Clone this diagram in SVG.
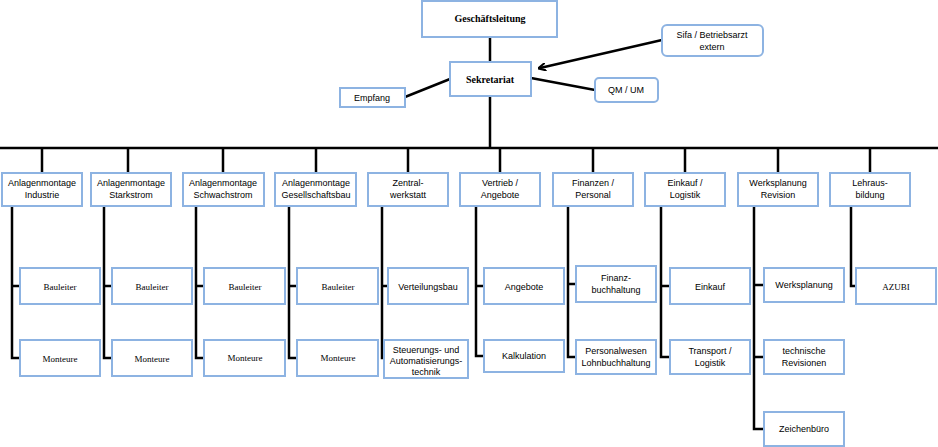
<svg xmlns="http://www.w3.org/2000/svg" width="938" height="447" viewBox="0 0 938 447">
<style>
rect{fill:#fff;stroke:#8db3e2;stroke-width:2}
.c line,.c path{stroke:#000;stroke-width:2.5;fill:none}
text{font-family:"Liberation Sans",Arial,sans-serif;font-size:9px;text-anchor:middle;fill:#000}
.s{font-family:"Liberation Serif",serif}
.b{font-weight:bold;font-family:"Liberation Serif",serif;font-size:10px}
</style>
<defs><marker id="a" markerWidth="8" markerHeight="8" refX="6" refY="4" orient="auto" markerUnits="userSpaceOnUse"><path d="M0,0 L8,4 L0,8" fill="none" stroke="#000" stroke-width="2"/></marker></defs>
<g class="c">
<line x1="490" y1="37" x2="490" y2="62"/>
<line x1="490" y1="96" x2="490" y2="148"/>
<line x1="0" y1="148" x2="938" y2="148"/>
<line x1="450" y1="79" x2="405" y2="97"/>
<line x1="531" y1="78" x2="595" y2="90"/>
<line x1="662" y1="40" x2="540" y2="68" marker-end="url(#a)" stroke-width="3"/>
<path d="M42 148V173M128 148V173M223 148V173M316 148V173M408 148V173M500 148V173M593 148V173M685 148V173M778 148V173M870 148V173"/>
<path d="M12 206V358H20M12 286H20"/>
<path d="M104 206V358H112M104 286H112"/>
<path d="M196 206V358H204M196 286H204"/>
<path d="M289 206V358H297M289 286H297"/>
<path d="M382 206V358H388M382 286H388"/>
<path d="M476 206V356H484M476 286H484"/>
<path d="M568 206V357H576M568 284H576"/>
<path d="M661 206V357H670M661 286H670"/>
<path d="M754 206V429H764M754 285H764M754 357H764"/>
<path d="M851 206V286H856"/>
</g>
<g id="gl"><rect x="422" y="1" width="135" height="36"/><text class="b" x="490" y="22">Geschäftsleitung</text></g>
<g id="sek"><rect x="450" y="62" width="81" height="34"/><text class="b" x="490" y="83">Sekretariat</text></g>
<g id="sifa"><rect x="662" y="25" width="101" height="31" rx="5"/><text x="712" y="38">Sifa / Betriebsarzt</text><text x="712" y="50">extern</text></g>
<g id="qm"><rect x="595" y="78" width="63" height="24" rx="4"/><text x="626" y="93">QM / UM</text></g>
<g id="emp"><rect x="340" y="88" width="65" height="19"/><text x="372" y="101">Empfang</text></g>
<g id="d1"><rect x="2" y="173" width="80" height="33"/><text x="42" y="186">Anlagenmontage</text><text x="42" y="198">Industrie</text></g>
<g id="d2"><rect x="91" y="173" width="80" height="33"/><text x="131" y="186">Anlagenmontage</text><text x="131" y="198">Starkstrom</text></g>
<g id="d3"><rect x="183" y="173" width="81" height="33"/><text x="223" y="186">Anlagenmontage</text><text x="223" y="198">Schwachstrom</text></g>
<g id="d4"><rect x="275" y="173" width="81" height="33"/><text x="316" y="186">Anlagenmontage</text><text x="316" y="198">Gesellschaftsbau</text></g>
<g id="d5"><rect x="368" y="173" width="80" height="33"/><text x="408" y="186">Zentral-</text><text x="408" y="198">werkstatt</text></g>
<g id="d6"><rect x="460" y="173" width="80" height="33"/><text x="500" y="186">Vertrieb /</text><text x="500" y="198">Angebote</text></g>
<g id="d7"><rect x="553" y="173" width="80" height="33"/><text x="593" y="186">Finanzen /</text><text x="593" y="198">Personal</text></g>
<g id="d8"><rect x="645" y="173" width="80" height="33"/><text x="685" y="186">Einkauf /</text><text x="685" y="198">Logistik</text></g>
<g id="d9"><rect x="738" y="173" width="80" height="33"/><text x="778" y="186">Werksplanung</text><text x="778" y="198">Revision</text></g>
<g id="d10"><rect x="830" y="173" width="80" height="33"/><text x="870" y="186">Lehraus-</text><text x="870" y="198">bildung</text></g>
<g id="b1"><rect x="20" y="268" width="80" height="36"/><text class="s" x="60" y="290">Bauleiter</text></g>
<g id="m1"><rect x="20" y="340" width="80" height="36"/><text class="s" x="60" y="362">Monteure</text></g>
<g id="b2"><rect x="112" y="268" width="80" height="36"/><text class="s" x="152" y="290">Bauleiter</text></g>
<g id="m2"><rect x="112" y="340" width="80" height="36"/><text class="s" x="152" y="362">Monteure</text></g>
<g id="b3"><rect x="204" y="268" width="81" height="36"/><text class="s" x="245" y="290">Bauleiter</text></g>
<g id="m3"><rect x="204" y="340" width="81" height="36"/><text class="s" x="245" y="361">Monteure</text></g>
<g id="b4"><rect x="297" y="268" width="81" height="36"/><text class="s" x="338" y="290">Bauleiter</text></g>
<g id="m4"><rect x="297" y="340" width="81" height="36"/><text class="s" x="338" y="361">Monteure</text></g>
<g id="z1"><rect x="388" y="268" width="80" height="36"/><text x="428" y="290">Verteilungsbau</text></g>
<g id="z2"><rect x="384" y="340" width="84" height="38"/><text x="426" y="353">Steuerungs- und</text><text x="426" y="364">Automatisierungs-</text><text x="426" y="375">technik</text></g>
<g id="v1"><rect x="484" y="268" width="80" height="36"/><text x="524" y="290">Angebote</text></g>
<g id="v2"><rect x="484" y="340" width="80" height="32"/><text x="524" y="359">Kalkulation</text></g>
<g id="f1"><rect x="576" y="266" width="80" height="36"/><text x="616" y="281">Finanz-</text><text x="616" y="293">buchhaltung</text></g>
<g id="f2"><rect x="576" y="340" width="80" height="34"/><text x="616" y="354">Personalwesen</text><text x="616" y="366">Lohnbuchhaltung</text></g>
<g id="e1"><rect x="670" y="268" width="80" height="36"/><text x="710" y="290">Einkauf</text></g>
<g id="e2"><rect x="670" y="340" width="80" height="34"/><text x="710" y="354">Transport /</text><text x="710" y="366">Logistik</text></g>
<g id="w1"><rect x="764" y="268" width="80" height="34"/><text x="804" y="288">Werksplanung</text></g>
<g id="w2"><rect x="764" y="340" width="80" height="34"/><text x="804" y="354">technische</text><text x="804" y="366">Revisionen</text></g>
<g id="w3"><rect x="764" y="412" width="80" height="34"/><text x="804" y="432">Zeichenbüro</text></g>
<g id="az"><rect x="856" y="268" width="80" height="36"/><text class="s" x="896" y="290">AZUBI</text></g>
</svg>
